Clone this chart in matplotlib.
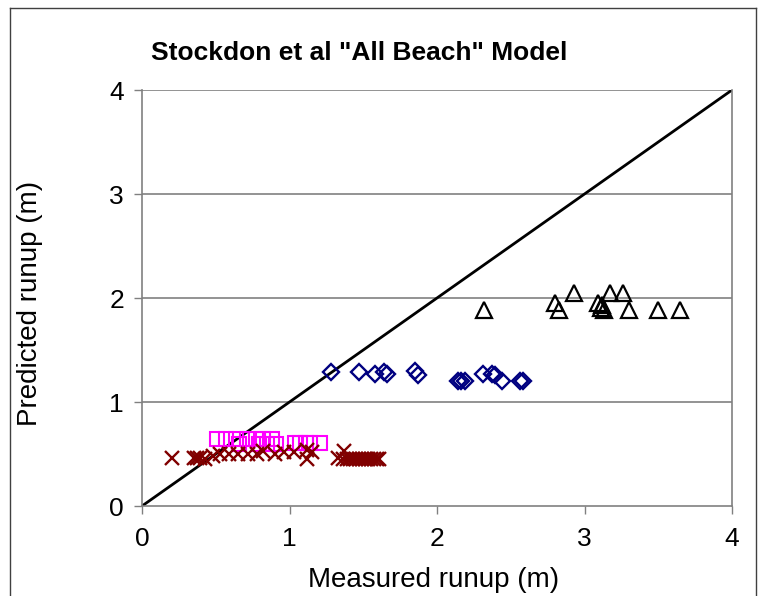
import matplotlib
matplotlib.use("Agg")
import matplotlib.pyplot as plt
from matplotlib.lines import Line2D

plt.rcParams['font.family'] = ['Liberation Sans', 'DejaVu Sans']

# values
tri_x = [2.32, 2.80, 2.83, 2.93, 3.09, 3.11, 3.12, 3.13, 3.17, 3.26, 3.30, 3.50, 3.65]
tri_y = [1.88, 1.95, 1.88, 2.05, 1.95, 1.90, 1.93, 1.88, 2.05, 2.05, 1.88, 1.88, 1.88]

dia_x = [1.28, 1.47, 1.58, 1.64, 1.66, 1.85, 1.87, 2.14, 2.16, 2.19, 2.31, 2.37, 2.39, 2.44, 2.56, 2.58]
dia_y = [1.29, 1.29, 1.27, 1.29, 1.27, 1.30, 1.26, 1.20, 1.20, 1.20, 1.27, 1.27, 1.26, 1.20, 1.20, 1.20]

sq_x = [0.51, 0.57, 0.64, 0.66, 0.71, 0.77, 0.79, 0.82, 0.85, 0.88, 0.91, 1.04, 1.07, 1.11, 1.14, 1.21]
sq_y = [0.64, 0.64, 0.64, 0.60, 0.64, 0.64, 0.60, 0.64, 0.60, 0.64, 0.60, 0.61, 0.61, 0.61, 0.61, 0.61]

x_x = [0.20, 0.35, 0.37, 0.39, 0.43, 0.48, 0.53, 0.59, 0.65, 0.72, 0.78, 0.82, 0.90, 0.96,
       1.03, 1.12, 1.12, 1.15, 1.33, 1.37, 1.36, 1.39, 1.41, 1.43, 1.45, 1.47, 1.49, 1.51,
       1.53, 1.55, 1.57, 1.59, 1.61]
x_y = [0.46, 0.46, 0.46, 0.46, 0.45, 0.48, 0.50, 0.50, 0.50, 0.50, 0.50, 0.53, 0.50, 0.52,
       0.52, 0.54, 0.45, 0.52, 0.46, 0.53, 0.45, 0.45, 0.45, 0.45, 0.45, 0.45, 0.45, 0.45,
       0.45, 0.45, 0.45, 0.45, 0.45]

ticks = [0, 1, 2, 3, 4]

fig = plt.figure(figsize=(7.58, 5.96), dpi=100)
ax = fig.add_axes([142 / 758, 90 / 596, 590 / 758, 416 / 596])

for t in ticks[1:]:
    ax.axhline(t, color='#808080', lw=1.2, zorder=0)

ax.plot([0, 4], [0, 4], color='black', lw=2, zorder=2)

ax.plot(sq_x, sq_y, 's', ms=10, mfc='none', mec='#ff00ff', mew=1.5, zorder=3)
ax.plot(x_x, x_y, 'x', ms=10, mec='#800000', mew=1.7, zorder=3)
ax.plot(dia_x, dia_y, 'D', ms=8, mfc='none', mec='#000080', mew=1.7, zorder=3)
ax.plot(tri_x, tri_y, '^', ms=11, mfc='none', mec='black', mew=1.6, zorder=3)

ax.set_xlim(0, 4)
ax.set_ylim(0, 4)
ax.set_xticks(ticks)
ax.set_yticks(ticks)
ax.tick_params(labelsize=19, length=6, width=1, color='#808080')
ax.tick_params(axis='x', pad=9)
ax.tick_params(axis='y', pad=7)

for s in ['left', 'bottom', 'right']:
    ax.spines[s].set_color('#808080')
    ax.spines[s].set_linewidth(1.2)
ax.spines['top'].set_visible(False)

fig.text(359 / 758, 1 - 53 / 596, 'Stockdon et al "All Beach" Model', fontsize=19,
         fontweight='bold', ha='center', va='center')
fig.text(434 / 758, 1 - 580 / 596, 'Measured runup (m)', fontsize=20, ha='center', va='center')
fig.text(30 / 758, 1 - 303 / 596, 'Predicted runup (m)', fontsize=20, ha='center',
         va='center', rotation=90)

# outer chart frame
fig.add_artist(Line2D([10 / 758, 10 / 758], [0, 1 - 8 / 596], color='#404040', lw=1))
fig.add_artist(Line2D([10 / 758, 756 / 758], [1 - 8 / 596, 1 - 8 / 596], color='#404040', lw=1))
fig.add_artist(Line2D([756 / 758, 756 / 758], [0, 1 - 8 / 596], color='#404040', lw=1))

fig.savefig('out.png', dpi=100)
